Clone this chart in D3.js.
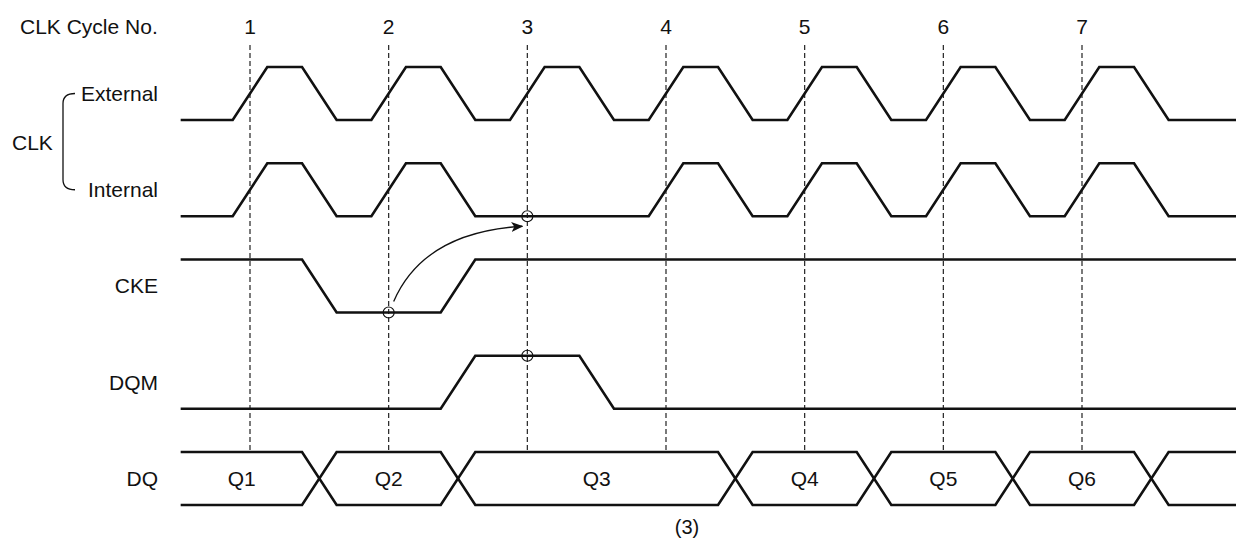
<!DOCTYPE html>
<html>
<head>
<meta charset="utf-8">
<script src="https://cdn.jsdelivr.net/npm/d3@7"></script>
<style>
  body { margin: 0; background: #fff; }
  svg { display: block; font-family: "Liberation Sans", Arial, sans-serif; }
</style>
</head>
<body>
<svg width="1236" height="539"></svg>
<script>
// Cycle numbers and the rows of the diagram
var cycles = [1, 2, 3, 4, 5, 6, 7];
var rows = ['External', 'Internal', 'CKE', 'DQM', 'DQ'];

// Signal levels, one value per half cycle, starting at t = 0.5
var extClk = [0, 1, 0, 1, 0, 1, 0, 1, 0, 1, 0, 1, 0, 1, 0];
var intClk = [0, 1, 0, 1, 0, 0, 0, 1, 0, 1, 0, 1, 0, 1, 0];
var cke    = [1, 1, 0, 0, 1, 1, 1, 1, 1, 1, 1, 1, 1, 1, 1];
var dqm    = [0, 0, 0, 0, 1, 1, 0, 0, 0, 0, 0, 0, 0, 0, 0];

// Data bus: crossing times and the words on it
var dqCrossings = [1.5, 2.5, 4.5, 5.5, 6.5, 7.5];
var dqLabels = ['Q1', 'Q2', 'Q3', 'Q4', 'Q5', 'Q6'];
var dqLabelAt = [0.94, 2, 3.5, 5, 6, 7];

// Sampling points marked with a circle
var marks = [{row: 'Internal', t: 3, level: 0}, {row: 'CKE', t: 2, level: 0}, {row: 'DQM', t: 3, level: 1}];

// Scales
var x = d3.scaleLinear().domain([1, 7]).range([250, 1082]);
var rowY = d3.scalePoint().domain(rows).range([120, 505]);
var amp = 53;
var edge = 17.3; // half width of a transition in px
var xEnd = 1236;
var fs = 21;

var svg = d3.select('svg');

function levelY(row, level) { return rowY(row) - level * amp; }

// Build the points of a waveform from its half-cycle levels
function wavePoints(row, levels) {
  var pts = [[x(0.5), levelY(row, levels[0])]];
  for (var i = 1; i < levels.length; i++) {
    if (levels[i] != levels[i - 1]) {
      var b = x(0.5 + 0.5 * i);
      pts.push([b - edge, levelY(row, levels[i - 1])]);
      pts.push([b + edge, levelY(row, levels[i])]);
    }
  }
  pts.push([xEnd, levelY(row, levels[levels.length - 1])]);
  return pts;
}

var line = d3.line();

// Dashed cycle lines
svg.selectAll('.cyc')
  .data(cycles).enter()
  .append('line')
  .attr('x1', d => x(d)).attr('x2', d => x(d))
  .attr('y1', 45).attr('y2', rowY('DQ') - amp)
  .attr('stroke', '#222')
  .attr('stroke-width', 1.2)
  .attr('stroke-dasharray', '5,3');

// Cycle numbers and title
svg.append('text').text('CLK Cycle No.')
  .attr('x', 20).attr('y', 27).attr('dy', '.35em')
  .attr('font-size', fs).attr('fill', '#111');
svg.selectAll('.num')
  .data(cycles).enter()
  .append('text')
  .text(d => d)
  .attr('x', d => x(d)).attr('y', 27).attr('dy', '.35em')
  .attr('text-anchor', 'middle')
  .attr('font-size', fs).attr('fill', '#111');

// Waveforms
var waves = [['External', extClk], ['Internal', intClk], ['CKE', cke], ['DQM', dqm]];
svg.selectAll('.wave')
  .data(waves).enter()
  .append('path')
  .attr('d', d => line(wavePoints(d[0], d[1])))
  .attr('fill', 'none')
  .attr('stroke', '#111')
  .attr('stroke-width', 2.6)
  .attr('stroke-linejoin', 'miter');

// Data bus (two lines that swap at every crossing)
function busPoints(startLevel) {
  var lv = startLevel;
  var pts = [[x(0.5), levelY('DQ', lv)]];
  dqCrossings.forEach(c => {
    pts.push([x(c) - edge, levelY('DQ', lv)]);
    lv = 1 - lv;
    pts.push([x(c) + edge, levelY('DQ', lv)]);
  });
  pts.push([xEnd, levelY('DQ', lv)]);
  return pts;
}
svg.selectAll('.bus')
  .data([1, 0]).enter()
  .append('path')
  .attr('d', d => line(busPoints(d)))
  .attr('fill', 'none')
  .attr('stroke', '#111')
  .attr('stroke-width', 2.6);

svg.selectAll('.q')
  .data(dqLabels).enter()
  .append('text')
  .text(d => d)
  .attr('x', (d, i) => x(dqLabelAt[i]))
  .attr('y', rowY('DQ') - amp / 2).attr('dy', '.35em')
  .attr('text-anchor', 'middle')
  .attr('font-size', fs).attr('fill', '#111');

// Row labels
svg.selectAll('.lbl')
  .data(rows).enter()
  .append('text')
  .text(d => d)
  .attr('x', 158)
  .attr('y', d => rowY(d) - amp / 2).attr('dy', '.35em')
  .attr('text-anchor', 'end')
  .attr('font-size', fs).attr('fill', '#111');

svg.append('text').text('CLK')
  .attr('x', 12).attr('y', 143).attr('dy', '.35em')
  .attr('font-size', fs).attr('fill', '#111');

// Brace joining External and Internal
var yTop = rowY('External') - amp / 2, yBot = rowY('Internal') - amp / 2;
svg.append('path')
  .attr('d', 'M75,' + yTop + ' Q63,' + yTop + ' 63,' + (yTop + 10) +
             ' L63,' + (yBot - 10) + ' Q63,' + yBot + ' 75,' + yBot)
  .attr('fill', 'none')
  .attr('stroke', '#111')
  .attr('stroke-width', 1.3);

// Sampling circles
svg.selectAll('.mark')
  .data(marks).enter()
  .append('circle')
  .attr('cx', d => x(d.t))
  .attr('cy', d => levelY(d.row, d.level))
  .attr('r', 5.5)
  .attr('fill', 'none')
  .attr('stroke', '#111')
  .attr('stroke-width', 1.2);

// Arrow from CKE sample to internal clock
svg.append('defs').append('marker')
  .attr('id', 'head')
  .attr('viewBox', '0 0 12 10')
  .attr('refX', 11).attr('refY', 5)
  .attr('markerWidth', 12).attr('markerHeight', 10)
  .attr('markerUnits', 'userSpaceOnUse')
  .attr('orient', 'auto')
  .append('path')
  .attr('d', 'M0,0 L12,5 L0,10 L3,5 Z')
  .attr('fill', '#111');

var a0 = [x(2) + 5, levelY('CKE', 0) - 11];
var a1 = [x(3) - 5, levelY('Internal', 0) + 10];
svg.append('path')
  .attr('d', 'M' + a0 + ' Q' + [a0[0] + 30, a1[1] + 6] + ' ' + a1)
  .attr('fill', 'none')
  .attr('stroke', '#111')
  .attr('stroke-width', 1.3)
  .attr('marker-end', 'url(#head)');

// Footnote
svg.append('text').text('(3)')
  .attr('x', 687).attr('y', 527).attr('dy', '.35em')
  .attr('text-anchor', 'middle')
  .attr('font-size', 20).attr('fill', '#111');
</script>
</body>
</html>
